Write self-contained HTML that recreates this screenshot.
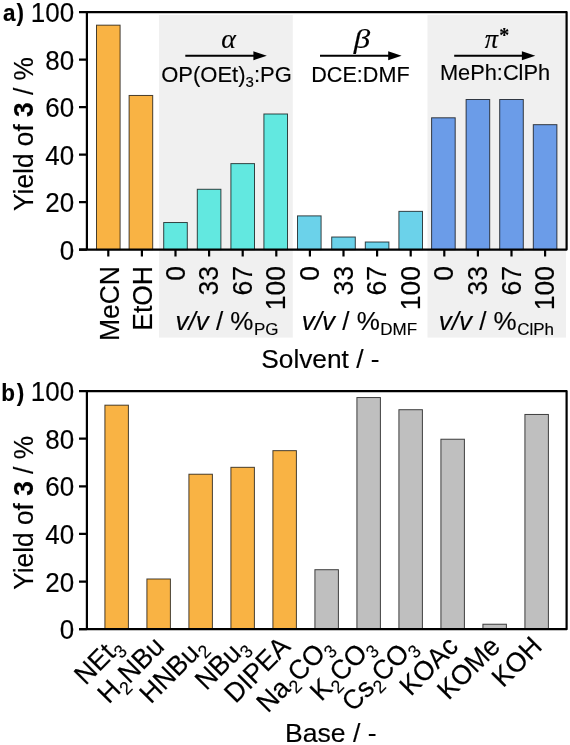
<!DOCTYPE html><html><head><meta charset="utf-8"><style>html,body{margin:0;padding:0;background:#fff;}svg{display:block;}text{font-family:"Liberation Sans",Arial,sans-serif;fill:#000;stroke:#000;stroke-width:0.15px;}.g{font-family:"Liberation Serif",serif;font-style:italic;}</style></head><body>
<svg width="570" height="745" viewBox="0 0 570 745">
<rect x="159" y="15" width="133.8" height="322.6" fill="#F0F0F0"/>
<rect x="427.5" y="15" width="138.5" height="322.6" fill="#F0F0F0"/>
<rect x="96.50" y="25.16" width="23.60" height="224.44" fill="#F9B344" stroke="#000" stroke-opacity="0.72" stroke-width="1"/>
<rect x="129.10" y="95.46" width="23.60" height="154.14" fill="#F9B344" stroke="#000" stroke-opacity="0.72" stroke-width="1"/>
<rect x="163.70" y="222.53" width="23.60" height="27.07" fill="#62E8E0" stroke="#000" stroke-opacity="0.72" stroke-width="1"/>
<rect x="197.30" y="189.28" width="23.60" height="60.32" fill="#62E8E0" stroke="#000" stroke-opacity="0.72" stroke-width="1"/>
<rect x="230.90" y="163.62" width="23.60" height="85.97" fill="#62E8E0" stroke="#000" stroke-opacity="0.72" stroke-width="1"/>
<rect x="263.90" y="113.99" width="23.60" height="135.61" fill="#62E8E0" stroke="#000" stroke-opacity="0.72" stroke-width="1"/>
<rect x="297.50" y="215.88" width="23.60" height="33.72" fill="#6BD2EA" stroke="#000" stroke-opacity="0.72" stroke-width="1"/>
<rect x="331.70" y="237.01" width="23.60" height="12.59" fill="#6BD2EA" stroke="#000" stroke-opacity="0.72" stroke-width="1"/>
<rect x="365.30" y="242.00" width="23.60" height="7.60" fill="#6BD2EA" stroke="#000" stroke-opacity="0.72" stroke-width="1"/>
<rect x="398.90" y="211.36" width="23.60" height="38.24" fill="#6BD2EA" stroke="#000" stroke-opacity="0.72" stroke-width="1"/>
<rect x="431.60" y="117.79" width="23.60" height="131.81" fill="#6B9CE8" stroke="#000" stroke-opacity="0.72" stroke-width="1"/>
<rect x="466.10" y="99.50" width="23.60" height="150.10" fill="#6B9CE8" stroke="#000" stroke-opacity="0.72" stroke-width="1"/>
<rect x="499.70" y="99.50" width="23.60" height="150.10" fill="#6B9CE8" stroke="#000" stroke-opacity="0.72" stroke-width="1"/>
<rect x="533.30" y="124.67" width="23.60" height="124.92" fill="#6B9CE8" stroke="#000" stroke-opacity="0.72" stroke-width="1"/>
<path d="M79,249.6 H566.6 V12.10 H86.9 V249.6" stroke="#000" stroke-width="2.2" stroke-linejoin="round" fill="none"/>
<path d="M79,249.60 H86.9M79,202.10 H86.9M79,154.60 H86.9M79,107.10 H86.9M79,59.60 H86.9M79,12.10 H86.9" stroke="#000" stroke-width="2.2"/>
<text transform="translate(74.20,259.70) scale(1.0,1.035)" font-size="26" text-anchor="end">0</text>
<text transform="translate(74.20,212.20) scale(1.0,1.035)" font-size="26" text-anchor="end">20</text>
<text transform="translate(74.20,164.70) scale(1.0,1.035)" font-size="26" text-anchor="end">40</text>
<text transform="translate(74.20,117.20) scale(1.0,1.035)" font-size="26" text-anchor="end">60</text>
<text transform="translate(74.20,69.70) scale(1.0,1.035)" font-size="26" text-anchor="end">80</text>
<text transform="translate(74.20,22.20) scale(1.0,1.035)" font-size="26" text-anchor="end">100</text>
<path d="M108.30,249.6 V256.6M141.90,249.6 V256.6M175.50,249.6 V256.6M209.10,249.6 V256.6M242.70,249.6 V256.6M276.30,249.6 V256.6M309.90,249.6 V256.6M343.50,249.6 V256.6M377.10,249.6 V256.6M410.70,249.6 V256.6M444.30,249.6 V256.6M477.90,249.6 V256.6M511.50,249.6 V256.6M545.10,249.6 V256.6" stroke="#000" stroke-width="2.2"/>
<rect x="104.90" y="405.17" width="23.50" height="224.03" fill="#F9B344" stroke="#000" stroke-opacity="0.72" stroke-width="1"/>
<rect x="146.90" y="578.98" width="23.50" height="50.22" fill="#F9B344" stroke="#000" stroke-opacity="0.72" stroke-width="1"/>
<rect x="188.90" y="474.22" width="23.50" height="154.98" fill="#F9B344" stroke="#000" stroke-opacity="0.72" stroke-width="1"/>
<rect x="230.90" y="467.32" width="23.50" height="161.88" fill="#F9B344" stroke="#000" stroke-opacity="0.72" stroke-width="1"/>
<rect x="272.90" y="450.65" width="23.50" height="178.55" fill="#F9B344" stroke="#000" stroke-opacity="0.72" stroke-width="1"/>
<rect x="314.90" y="569.70" width="23.50" height="59.50" fill="#BFBFBF" stroke="#000" stroke-opacity="0.72" stroke-width="1"/>
<rect x="356.90" y="397.55" width="23.50" height="231.65" fill="#BFBFBF" stroke="#000" stroke-opacity="0.72" stroke-width="1"/>
<rect x="398.90" y="409.70" width="23.50" height="219.50" fill="#BFBFBF" stroke="#000" stroke-opacity="0.72" stroke-width="1"/>
<rect x="440.90" y="439.22" width="23.50" height="189.98" fill="#BFBFBF" stroke="#000" stroke-opacity="0.72" stroke-width="1"/>
<rect x="482.90" y="624.22" width="23.50" height="4.98" fill="#BFBFBF" stroke="#000" stroke-opacity="0.72" stroke-width="1"/>
<rect x="524.90" y="414.46" width="23.50" height="214.74" fill="#BFBFBF" stroke="#000" stroke-opacity="0.72" stroke-width="1"/>
<path d="M79,629.2 H566.6 V391.10 H86.9 V629.2" stroke="#000" stroke-width="2.2" stroke-linejoin="round" fill="none"/>
<path d="M79,629.20 H86.9M79,581.58 H86.9M79,533.96 H86.9M79,486.34 H86.9M79,438.72 H86.9M79,391.10 H86.9" stroke="#000" stroke-width="2.2"/>
<text transform="translate(74.20,639.30) scale(1.0,1.035)" font-size="26" text-anchor="end">0</text>
<text transform="translate(74.20,591.68) scale(1.0,1.035)" font-size="26" text-anchor="end">20</text>
<text transform="translate(74.20,544.06) scale(1.0,1.035)" font-size="26" text-anchor="end">40</text>
<text transform="translate(74.20,496.44) scale(1.0,1.035)" font-size="26" text-anchor="end">60</text>
<text transform="translate(74.20,448.82) scale(1.0,1.035)" font-size="26" text-anchor="end">80</text>
<text transform="translate(74.20,401.20) scale(1.0,1.035)" font-size="26" text-anchor="end">100</text>
<text transform="translate(3.00,21.00) scale(1.0,1.035)" font-size="22.5" font-weight="bold">a<tspan dx="1">)</tspan></text>
<text transform="translate(1.30,401.20) scale(1.0,1.035)" font-size="22.5" font-weight="bold">b<tspan dx="1.8">)</tspan></text>
<text transform="translate(33.00,134.00) rotate(-90) scale(1.0,1.035)" font-size="26.3" text-anchor="middle">Yield of <tspan font-weight="bold">3</tspan> / %</text>
<text transform="translate(33.00,512.90) rotate(-90) scale(1.0,1.035)" font-size="26.3" text-anchor="middle">Yield of <tspan font-weight="bold">3</tspan> / %</text>
<text transform="translate(118.80,266.00) rotate(-90) scale(1.0,1.035)" font-size="26.5" text-anchor="end">MeCN</text>
<text transform="translate(152.20,266.00) rotate(-90) scale(1.0,1.035)" font-size="26.5" text-anchor="end">EtOH</text>
<text transform="translate(184.50,266.00) rotate(-90) scale(1.0,1.035)" font-size="26.5" text-anchor="end">0</text>
<text transform="translate(218.10,266.00) rotate(-90) scale(1.0,1.035)" font-size="26.5" text-anchor="end">33</text>
<text transform="translate(251.70,266.00) rotate(-90) scale(1.0,1.035)" font-size="26.5" text-anchor="end">67</text>
<text transform="translate(285.30,266.00) rotate(-90) scale(1.0,1.035)" font-size="26.5" text-anchor="end">100</text>
<text transform="translate(318.90,266.00) rotate(-90) scale(1.0,1.035)" font-size="26.5" text-anchor="end">0</text>
<text transform="translate(352.50,266.00) rotate(-90) scale(1.0,1.035)" font-size="26.5" text-anchor="end">33</text>
<text transform="translate(386.10,266.00) rotate(-90) scale(1.0,1.035)" font-size="26.5" text-anchor="end">67</text>
<text transform="translate(419.70,266.00) rotate(-90) scale(1.0,1.035)" font-size="26.5" text-anchor="end">100</text>
<text transform="translate(453.30,266.00) rotate(-90) scale(1.0,1.035)" font-size="26.5" text-anchor="end">0</text>
<text transform="translate(486.90,266.00) rotate(-90) scale(1.0,1.035)" font-size="26.5" text-anchor="end">33</text>
<text transform="translate(520.50,266.00) rotate(-90) scale(1.0,1.035)" font-size="26.5" text-anchor="end">67</text>
<text transform="translate(554.10,266.00) rotate(-90) scale(1.0,1.035)" font-size="26.5" text-anchor="end">100</text>
<text transform="translate(227.00,329.80)" font-size="26" text-anchor="middle"><tspan font-style="italic">v/v</tspan> / %<tspan font-size="17" dy="5.5" dx="0.5">PG</tspan></text>
<text transform="translate(359.40,329.80)" font-size="26" text-anchor="middle"><tspan font-style="italic">v/v</tspan> / %<tspan font-size="17" dy="5.5" dx="0.5">DMF</tspan></text>
<text transform="translate(496.40,329.80)" font-size="26" text-anchor="middle"><tspan font-style="italic">v/v</tspan> / %<tspan font-size="17" dy="5.5" dx="0.5">ClPh</tspan></text>
<text transform="translate(320.40,367.90)" font-size="26.3" text-anchor="middle">Solvent / -</text>
<path d="M185.3,55.8 H254.8" stroke="#000" stroke-width="2.1"/>
<path d="M253.4,51.3 L266.8,55.8 L253.4,60.3 Z" fill="#000"/>
<path d="M320,55.8 H389.6" stroke="#000" stroke-width="2.1"/>
<path d="M388.20000000000005,51.3 L401.6,55.8 L388.20000000000005,60.3 Z" fill="#000"/>
<path d="M454.2,55.8 H523.3" stroke="#000" stroke-width="2.1"/>
<path d="M521.9,51.3 L535.3,55.8 L521.9,60.3 Z" fill="#000"/>
<text transform="translate(228.70,48.30)" font-size="28" text-anchor="middle" class="g">α</text>
<text transform="translate(362.00,48.00) scale(1.2,1.0)" font-size="27.5" text-anchor="middle" class="g">β</text>
<text transform="translate(497.00,48.00)" font-size="26.5" text-anchor="middle" class="g">π<tspan font-style="normal" font-weight="bold" dx="1" dy="-6" font-size="20">*</tspan></text>
<text transform="translate(226.50,81.80) scale(1.0,1.035)" font-size="22" text-anchor="middle">OP(OEt)<tspan font-size="15" dy="5">3</tspan><tspan dy="-5">:PG</tspan></text>
<text transform="translate(360.40,82.00) scale(1.0,1.035)" font-size="21.6" text-anchor="middle">DCE:DMF</text>
<text transform="translate(495.00,79.60) scale(1.0,1.035)" font-size="21.8" text-anchor="middle">MePh:ClPh</text>
<text transform="translate(123.65,648.00) rotate(-45) scale(1.0,1.035)" font-size="26.5" text-anchor="end">NEt<tspan font-size="17.5" dy="6">3</tspan></text>
<text transform="translate(165.65,648.00) rotate(-45) scale(1.0,1.035)" font-size="26.5" text-anchor="end">H<tspan font-size="17.5" dy="6">2</tspan><tspan dy="-6">NBu</tspan></text>
<text transform="translate(207.65,648.00) rotate(-45) scale(1.0,1.035)" font-size="26.5" text-anchor="end">HNBu<tspan font-size="17.5" dy="6">2</tspan></text>
<text transform="translate(249.65,648.00) rotate(-45) scale(1.0,1.035)" font-size="26.5" text-anchor="end">NBu<tspan font-size="17.5" dy="6">3</tspan></text>
<text transform="translate(291.65,648.00) rotate(-45) scale(1.0,1.035)" font-size="26.5" text-anchor="end">DIPEA</text>
<text transform="translate(333.65,648.00) rotate(-45) scale(1.0,1.035)" font-size="26.5" text-anchor="end">Na<tspan font-size="17.5" dy="6">2</tspan><tspan dy="-6">CO</tspan><tspan font-size="17.5" dy="6">3</tspan></text>
<text transform="translate(375.65,648.00) rotate(-45) scale(1.0,1.035)" font-size="26.5" text-anchor="end">K<tspan font-size="17.5" dy="6">2</tspan><tspan dy="-6">CO</tspan><tspan font-size="17.5" dy="6">3</tspan></text>
<text transform="translate(417.65,648.00) rotate(-45) scale(1.0,1.035)" font-size="26.5" text-anchor="end">Cs<tspan font-size="17.5" dy="6">2</tspan><tspan dy="-6">CO</tspan><tspan font-size="17.5" dy="6">3</tspan></text>
<text transform="translate(459.65,648.00) rotate(-45) scale(1.0,1.035)" font-size="26.5" text-anchor="end">KOAc</text>
<text transform="translate(501.65,648.00) rotate(-45) scale(1.0,1.035)" font-size="26.5" text-anchor="end">KOMe</text>
<text transform="translate(543.65,648.00) rotate(-45) scale(1.0,1.035)" font-size="26.5" text-anchor="end">KOH</text>
<text transform="translate(330.80,741.60)" font-size="26.6" text-anchor="middle">Base / -</text>
</svg></body></html>
